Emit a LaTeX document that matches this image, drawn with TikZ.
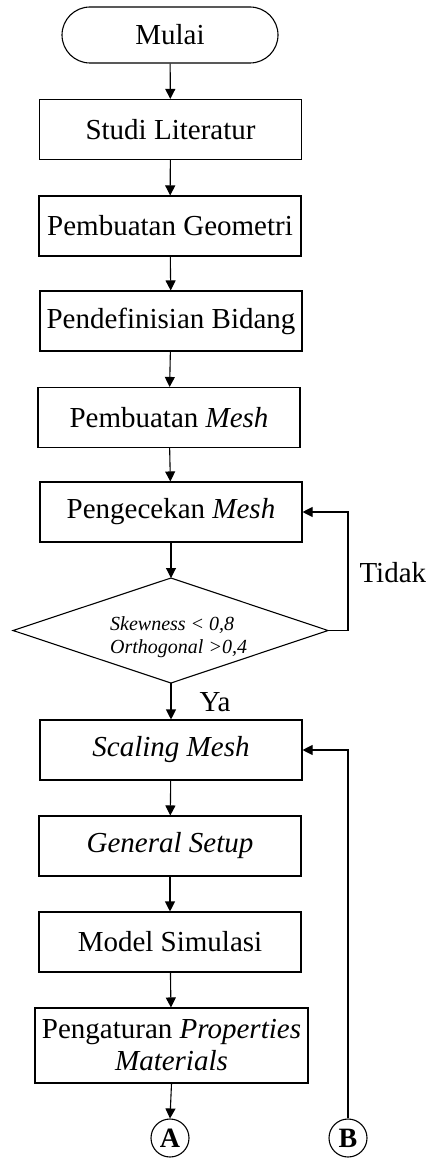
\documentclass[tikz,border=0pt]{standalone}
\usepackage{fontspec}
\setmainfont{Liberation Serif}
\usetikzlibrary{shapes.geometric,arrows.meta}
\begin{document}
\begin{tikzpicture}[x=1pt,y=-1pt,
  every node/.style={font=\fontsize{29}{33}\selectfont},
  procbox/.style={draw,line width=1.1pt,minimum width=262pt,minimum height=60pt,inner sep=0pt,align=center},
  termbox/.style={draw,line width=1.1pt,rounded corners=28pt,minimum width=216pt,minimum height=56pt,inner sep=0pt},
  dectext/.style={inner sep=0pt,align=left,font=\fontsize{20}{22.5}\selectfont\itshape},
  decline/.style={line width=1.1pt,line join=miter},
  conn/.style={draw,circle,line width=1.1pt,minimum size=38pt,inner sep=0pt,font=\fontsize{28}{30}\selectfont\bfseries},
  flow/.style={line width=1.1pt,-{Triangle[length=10pt,width=10pt]}}]
\useasboundingbox (0,0) rectangle (426,1158);
\node[termbox] (mulai) at (170,35) {Mulai};
\node[procbox] (studi) at (170.5,129.5) {Studi Literatur};
\node[procbox] (geom) at (170,226) {Pembuatan Geometri};
\node[procbox] (bidang) at (171,321) {Pendefinisian Bidang};
\node[procbox] (buatmesh) at (169,417.5) {Pembuatan \textit{Mesh}};
\node[procbox] (cekmesh) at (171,512) {Pengecekan \textit{Mesh}};
\coordinate (dtop) at (171,578);
\coordinate (dleft) at (13,630.5);
\coordinate (dright) at (328,630.5);
\coordinate (dbot) at (171,683);
\draw[decline] (dtop) -- (dright) -- (dbot) -- (dleft) -- cycle;
\node[dectext,anchor=west] (dec) at (110,637) {Skewness < 0,8\\Orthogonal >0,4};
\node[procbox] (scale) at (171,750) {\textit{Scaling Mesh}};
\node[procbox] (gen) at (170,846) {\textit{General Setup}};
\node[procbox] (model) at (170,942) {Model Simulasi};
\node[procbox,minimum width=273pt,minimum height=75pt,font=\fontsize{29}{32}\selectfont] (prop) at (171.5,1045.5) {Pengaturan \textit{Properties}\\\textit{Materials}};
\node[conn] (A) at (170,1138) {A};
\node[conn] (B) at (348,1138) {B};
\node[anchor=base west] (tidak) at (356,582) {Tidak};
\node (ya) at (215,702) {Ya};
\coordinate (tr) at (348,630.5);
\coordinate (tt) at (348,512);
\coordinate (bt) at (348,750);

\draw[flow] (mulai) -- (studi);
\draw[flow] (studi) -- (geom);
\draw[flow] (geom) -- (bidang);
\draw[flow] (bidang) -- (buatmesh);
\draw[flow] (buatmesh) -- (cekmesh);
\draw[flow] (cekmesh.south) -- (dtop);
\draw[flow] (dbot) -- (scale.north);
\draw[flow] (scale) -- (gen);
\draw[flow] (gen) -- (model);
\draw[flow] (model) -- (prop);
\draw[flow] (prop.south) -- (A.north);
\draw[flow] (dright) -- (tr) -- (tt) -- (cekmesh.east);
\draw[flow] (B.north) -- (bt) -- (scale.east);
\end{tikzpicture}
\end{document}
